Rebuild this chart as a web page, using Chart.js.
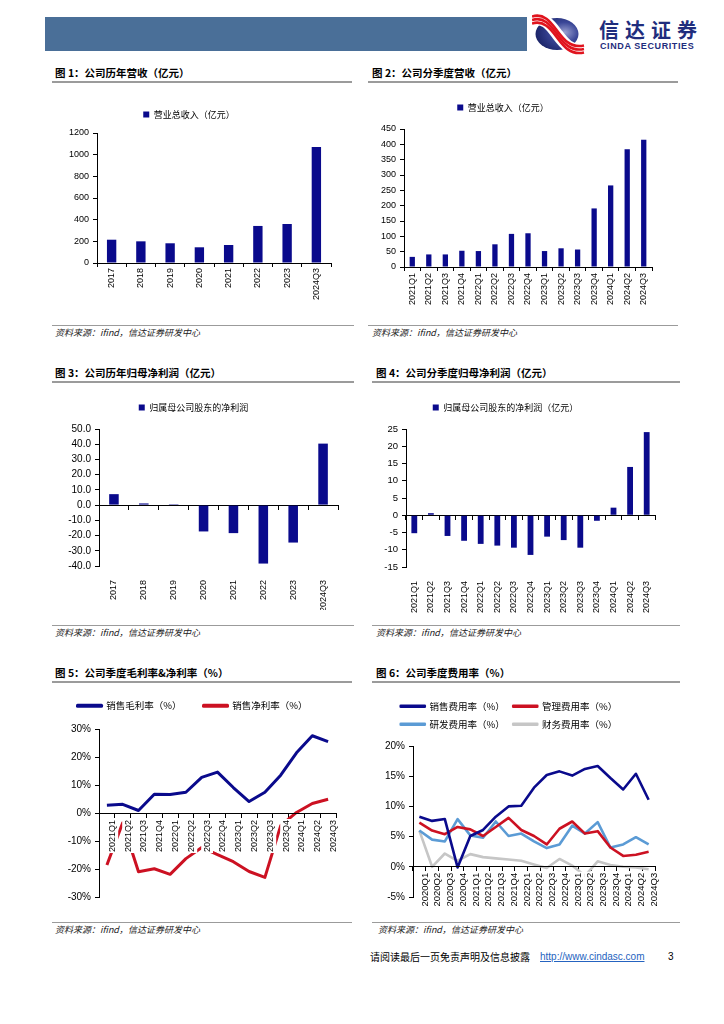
<!DOCTYPE html>
<html>
<head>
<meta charset="utf-8">
<title>公司财务图表</title>
<script src="https://cdn.jsdelivr.net/npm/chart.js@4.4.1/dist/chart.umd.min.js"></script>
<style>
  html, body { margin: 0; padding: 0; background: #fff; }
  #page { position: relative; width: 724px; height: 1024px; overflow: hidden; font-family: "Noto Sans CJK SC", sans-serif; color: #000; }
  #page > * { position: absolute; }
  .title { font-size: 10.5px; font-weight: bold; line-height: 14px; white-space: nowrap; }
  .rule { height: 2px; background: #9b9b9b; }
  .srule { height: 1px; background: #9b9b9b; }
  .src { font-size: 9px; font-style: italic; line-height: 11px; color: #222; white-space: nowrap; }
</style>
</head>
<body>
<div id="page">
  <div style="left:45px;top:17px;width:482px;height:34px;background:#4a6f98"></div>
  <svg style="left:532px;top:14px" width="56" height="42" viewBox="0 0 56 42">
    <defs>
      <radialGradient id="lg" cx="68%" cy="45%" r="70%">
        <stop offset="0" stop-color="#9aa0d0"/>
        <stop offset="0.45" stop-color="#3a4697"/>
        <stop offset="1" stop-color="#1a2366"/>
      </radialGradient>
    </defs>
    <ellipse cx="25" cy="20" rx="21.5" ry="16" fill="url(#lg)"/>
    <path d="M0 6 C 12 2, 19 12, 25 20 S 38 38, 52 35" stroke="#fff" stroke-width="12" fill="none"/>
    <path d="M0 2.5 C 12 -1.5, 19 8.5, 25 16.5 S 38 34.5, 52 31.5" stroke="#e0141e" stroke-width="2.6" fill="none"/>
    <path d="M0 6 C 12 2, 19 12, 25 20 S 38 38, 52 35" stroke="#e0141e" stroke-width="2.6" fill="none"/>
    <path d="M0 9.5 C 12 5.5, 19 15.5, 25 23.5 S 38 41.5, 52 38.5" stroke="#e0141e" stroke-width="2.6" fill="none"/>
  </svg>
  <div style="left:599px;top:19px;font-size:20px;font-weight:bold;letter-spacing:6px;line-height:22px;color:#1f2d7d">信达证券</div>
  <div style="left:600px;top:41px;font:bold 9px 'Liberation Sans',Arial,sans-serif;letter-spacing:0.6px;line-height:11px;color:#1f2d7d">CINDA SECURITIES</div>

  <div class="title" style="left:55px;top:66px">图 1：公司历年营收（亿元）</div>
  <div class="rule" style="left:52px;top:81px;width:300px"></div>
  <div class="title" style="left:372px;top:66px">图 2：公司分季度营收（亿元）</div>
  <div class="rule" style="left:368px;top:81px;width:310px"></div>

  <div class="srule" style="left:52px;top:325px;width:302px"></div>
  <div class="src" style="left:55px;top:326.5px">资料来源：ifind，信达证券研发中心</div>
  <div class="srule" style="left:368px;top:325px;width:310px"></div>
  <div class="src" style="left:372px;top:326.5px">资料来源：ifind，信达证券研发中心</div>

  <div class="title" style="left:55px;top:366px">图 3：公司历年归母净利润（亿元）</div>
  <div class="rule" style="left:52px;top:381px;width:302px"></div>
  <div class="title" style="left:376px;top:366px">图 4：公司分季度归母净利润（亿元）</div>
  <div class="rule" style="left:372px;top:381px;width:308px"></div>

  <div class="srule" style="left:52px;top:625px;width:302px"></div>
  <div class="src" style="left:55px;top:626.5px">资料来源：ifind，信达证券研发中心</div>
  <div class="srule" style="left:372px;top:625px;width:308px"></div>
  <div class="src" style="left:376px;top:626.5px">资料来源：ifind，信达证券研发中心</div>

  <div class="title" style="left:55px;top:666px">图 5：公司季度毛利率&amp;净利率（%）</div>
  <div class="rule" style="left:52px;top:681px;width:300px"></div>
  <div class="title" style="left:376px;top:666px">图 6：公司季度费用率（%）</div>
  <div class="rule" style="left:372px;top:681px;width:308px"></div>

  <div class="srule" style="left:52px;top:922px;width:300px"></div>
  <div class="src" style="left:55px;top:923.5px">资料来源：ifind，信达证券研发中心</div>
  <div class="srule" style="left:372px;top:922px;width:308px"></div>
  <div class="src" style="left:378px;top:923.5px">资料来源：ifind，信达证券研发中心</div>

  <div style="left:370px;top:950px;font-size:10px;line-height:14px;white-space:nowrap">请阅读最后一页免责声明及信息披露</div>
  <div style="left:540px;top:950px;font:10px 'Liberation Sans',Arial,sans-serif;line-height:14px;color:#2563c0;text-decoration:underline">http://www.cindasc.com</div>
  <div style="left:668px;top:950px;font:10px 'Liberation Sans',Arial,sans-serif;line-height:14px">3</div>

  <canvas id="c1"></canvas>
  <canvas id="c2"></canvas>
  <canvas id="c3"></canvas>
  <canvas id="c4"></canvas>
  <canvas id="c5"></canvas>
  <canvas id="c6"></canvas>
</div>

<script>
// categories
const years = ['2017', '2018', '2019', '2020', '2021', '2022', '2023', '2024Q3'];
const quarters = ['2021Q1', '2021Q2', '2021Q3', '2021Q4', '2022Q1', '2022Q2', '2022Q3', '2022Q4',
  '2023Q1', '2023Q2', '2023Q3', '2023Q4', '2024Q1', '2024Q2', '2024Q3'];
const quartersFrom2020 = ['2020Q1', '2020Q2', '2020Q3', '2020Q4'].concat(quarters);

// revenue, 亿元
const revenueYear = [215, 200, 182, 145, 166, 342, 360, 1070];
const revenueQuarter = [33, 41, 41, 53, 52, 74, 108, 110, 52, 61, 57, 191, 266, 384, 415];

// net profit attributable to parent, 亿元
const profitYear = [7.2, 1.1, 0.6, -17.3, -18.4, -38.4, -24.6, 40.4];
const profitQuarter = [-5.2, 0.6, -6.0, -7.4, -8.3, -8.8, -9.4, -11.5, -6.2, -7.2, -9.4, -1.6, 2.2, 14.0, 24.1];

// margins, %
const grossMargin = [2.8, 3.1, 0.9, 6.7, 6.6, 7.4, 12.7, 14.6, 9.1, 4.1, 7.4, 13.5, 21.5, 27.6, 25.5];
const netMargin = [-18.6, -3.5, -21.0, -19.9, -21.9, -16.3, -12.3, -14.9, -17.4, -20.9, -23.0, -4.5, 0.2, 3.4, 4.9];

// expense ratios, %
const sellingRate = [8.3, 7.6, 7.9, -0.1, 5.1, 6.1, 8.3, 10.0, 10.1, 13.1, 15.2, 15.8, 15.1, 16.2, 16.7, 14.7, 12.8, 15.4, 11.1];
const adminRate = [7.3, 6.0, 5.4, 6.6, 6.2, 5.1, 6.6, 8.1, 6.1, 5.1, 3.7, 6.3, 7.5, 5.5, 5.9, 3.2, 1.8, 2.0, 2.5];
const rdRate = [6.0, 4.5, 4.2, 7.9, 5.2, 4.8, 7.5, 5.1, 5.5, 4.2, 3.1, 3.7, 6.8, 5.5, 7.4, 3.2, 3.7, 4.9, 3.7];
const financeRate = [6.0, 0.0, 2.2, 1.0, 2.1, 1.6, 1.4, 1.2, 1.0, 0.4, -0.2, 1.3, 0.2, -1.5, 0.9, 0.3, 0.0, -0.1, -0.4];

const NAVY = '#0a0a8c';
const RED = '#cc1122';
const LIGHT_BLUE = '#5b9bd5';
const GREY = '#c6c6c6';
const CJK = "'Noto Sans CJK SC', sans-serif";
const Y_W = 50;
const R_PAD = 8;

Chart.defaults.font.family = "'Liberation Sans', Arial, sans-serif";
Chart.defaults.color = '#000';

// lets the legend take a fixed height so the plot sits where it should
const legendHeight = {
  id: 'legendHeight',
  beforeInit(chart, args, opts) {
    const legend = chart.legend;
    if (!legend) return;
    const fit = legend.fit;
    legend.fit = function () {
      fit.call(this);
      if (opts.height) this.height = opts.height;
    };
  }
};

function draw(id, box, config) {
  const canvas = document.getElementById(id);
  const lg = box.legend;
  const extra = box.extraRight || 0;
  const legendTop = Math.round(lg.y - lg.padding - lg.size / 2);
  const w = box.area.r - box.area.l + Y_W + R_PAD + extra;
  const h = box.area.b - legendTop + box.bottom;
  canvas.width = w;
  canvas.height = h;
  Object.assign(canvas.style, {
    left: (box.area.l - Y_W) + 'px', top: legendTop + 'px', width: w + 'px', height: h + 'px'
  });
  const o = config.options;
  o.responsive = false;
  o.animation = false;
  o.layout = { padding: { top: 0, left: 0, right: R_PAD + extra, bottom: box.padBottom || 0 } };
  o.plugins = {
    legend: {
      position: 'top',
      labels: {
        font: { family: CJK, size: lg.size }, color: '#000', padding: lg.padding,
        boxWidth: lg.boxWidth, boxHeight: lg.boxHeight
      }
    },
    legendHeight: { height: box.area.t - legendTop },
    tooltip: { enabled: false }
  };
  config.plugins = [legendHeight];
  return new Chart(canvas, config);
}

function tickMarks() {
  return { offset: true, drawOnChartArea: false, tickLength: 4, color: '#000' };
}

function rotatedTicks(size, padding) {
  return { font: { size }, color: '#000', minRotation: 90, maxRotation: 90, autoSkip: false, padding };
}

function yAxis(min, max, stepSize, size, format) {
  return {
    min, max,
    ticks: { stepSize, font: { size }, color: '#000', padding: 4, callback: format || (v => v) },
    grid: { drawOnChartArea: false, tickLength: 4, color: '#000' },
    border: { color: '#000' },
    afterFit(scale) { scale.width = Y_W; }
  };
}

function fixedHeight(h) {
  return scale => { scale.height = h; };
}

function barSet(label, data, barPercentage) {
  return { label, data, backgroundColor: NAVY, borderWidth: 0, barPercentage, categoryPercentage: 1 };
}

function lineSet(label, data, color, width) {
  return {
    label, data, borderColor: color, backgroundColor: color, borderWidth: width,
    pointRadius: 0, tension: 0, fill: false, borderJoinStyle: 'round'
  };
}

// bar chart with the axis line at zero and labels at the bottom
function zeroAxisScales(labels, h, y) {
  return {
    x: { offset: true, grid: { display: false }, border: { display: false }, ticks: rotatedTicks(9, 6), afterFit: fixedHeight(h) },
    x2: { axis: 'x', type: 'category', labels, position: { y: 0 }, offset: true,
      grid: tickMarks(), border: { color: '#000' }, ticks: { display: false } },
    y
  };
}

// line chart: x labels hang from the zero line and cover the lines behind them
function zeroLineX(size, padding) {
  const ticks = Object.assign(rotatedTicks(size, padding), {
    z: 1, showLabelBackdrop: true, backdropColor: '#fff',
    backdropPadding: { top: 0.5, bottom: 0.5, left: 1, right: 1 }
  });
  return { position: { y: 0 }, offset: true, grid: tickMarks(), border: { color: '#000', z: 1 }, ticks };
}

function drawAll() {
  // figure 1
  const box1 = { area: { l: 97, t: 133, r: 331, b: 263 }, bottom: 44, extraRight: 14,
    legend: { y: 114, size: 9, padding: 8, boxWidth: 6, boxHeight: 6 } };
  draw('c1', box1, {
    type: 'bar',
    data: { labels: years, datasets: [barSet('营业总收入（亿元）', revenueYear, 0.32)] },
    options: {
      scales: {
        x: { offset: true, grid: tickMarks(), border: { color: '#000' }, ticks: rotatedTicks(9, 1), afterFit: fixedHeight(44) },
        y: yAxis(0, 1200, 200, 9)
      }
    }
  });

  // figure 2
  const box2 = { area: { l: 404, t: 129, r: 652, b: 267 }, bottom: 44, extraRight: 20,
    legend: { y: 107, size: 9, padding: 8, boxWidth: 6, boxHeight: 6 } };
  draw('c2', box2, {
    type: 'bar',
    data: { labels: quarters, datasets: [barSet('营业总收入（亿元）', revenueQuarter, 0.32)] },
    options: {
      scales: {
        x: { offset: true, grid: tickMarks(), border: { color: '#000' }, ticks: rotatedTicks(9, 2), afterFit: fixedHeight(44) },
        y: yAxis(0, 450, 50, 9)
      }
    }
  });

  // figure 3
  const box3 = { area: { l: 99, t: 429, r: 338, b: 566 }, bottom: 44, extraRight: 15,
    legend: { y: 407, size: 9, padding: 8, boxWidth: 6, boxHeight: 6 } };
  draw('c3', box3, {
    type: 'bar',
    data: { labels: years, datasets: [barSet('归属母公司股东的净利润', profitYear, 0.32)] },
    options: { scales: zeroAxisScales(years, 44, yAxis(-40, 50, 10, 10, v => v.toFixed(1))) }
  });

  // figure 4
  const box4 = { area: { l: 406, t: 429, r: 655, b: 567 }, bottom: 46, extraRight: 22,
    legend: { y: 407, size: 9, padding: 8, boxWidth: 6, boxHeight: 6 } };
  draw('c4', box4, {
    type: 'bar',
    data: { labels: quarters, datasets: [barSet('归属母公司股东的净利润（亿元）', profitQuarter, 0.35)] },
    options: { scales: zeroAxisScales(quarters, 46, yAxis(-15, 25, 5, 9.5)) }
  });

  // figure 5
  const box5 = { area: { l: 99, t: 729, r: 336, b: 899 }, bottom: 8, padBottom: 8, extraRight: 14,
    legend: { y: 706, size: 9.5, padding: 22, boxWidth: 24, boxHeight: 1 } };
  draw('c5', box5, {
    type: 'line',
    data: {
      labels: quarters,
      datasets: [
        lineSet('销售毛利率（%）', grossMargin, NAVY, 3),
        lineSet('销售净利率（%）', netMargin, RED, 3)
      ]
    },
    options: {
      scales: {
        x: zeroLineX(9, 3),
        y: yAxis(-30, 30, 10, 10, v => v + '%')
      }
    }
  });

  // figure 6
  const box6 = { area: { l: 413, t: 746, r: 655, b: 897 }, bottom: 12, padBottom: 12, extraRight: 16,
    legend: { y: 706, size: 9.5, padding: 8.5, boxWidth: 24, boxHeight: 1 } };
  draw('c6', box6, {
    type: 'line',
    data: {
      labels: quartersFrom2020,
      datasets: [
        lineSet('销售费用率（%）', sellingRate, NAVY, 2.6),
        lineSet('管理费用率（%）', adminRate, RED, 2.6),
        lineSet('研发费用率（%）', rdRate, LIGHT_BLUE, 2.6),
        lineSet('财务费用率（%）', financeRate, GREY, 2.6)
      ]
    },
    options: {
      scales: {
        x: zeroLineX(9.5, 2),
        y: yAxis(-5, 20, 5, 10, v => v + '%')
      }
    }
  });
}

// measure legend text with the real fonts, not a fallback
const fontLoads = ["9px 'Noto Sans CJK SC'", "10px 'Noto Sans CJK SC'", "10px 'Liberation Sans'"]
  .map(f => document.fonts.load(f, '营业总收入0%'));
Promise.all(fontLoads).catch(() => null).then(drawAll);
</script>
</body>
</html>
